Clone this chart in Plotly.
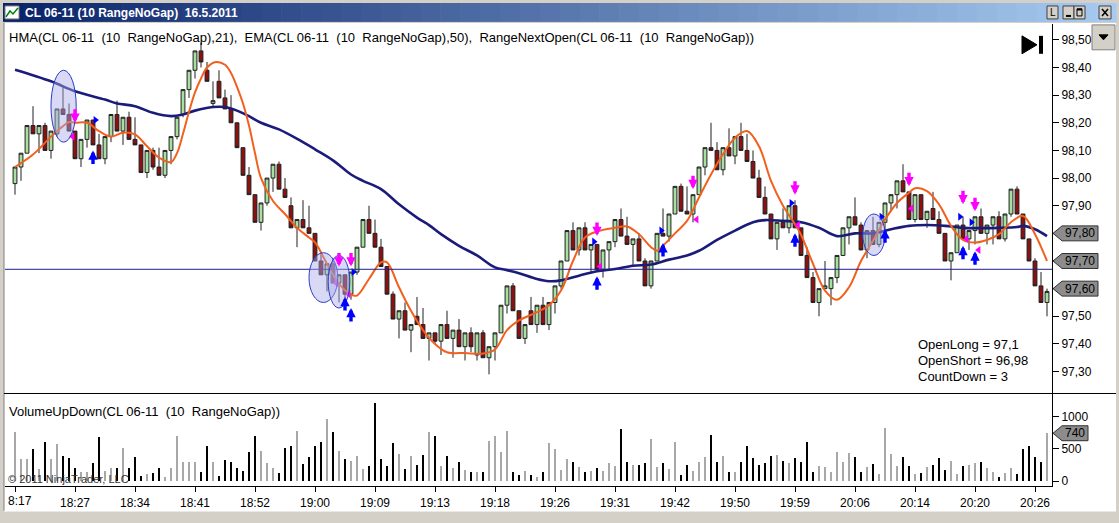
import plotly.graph_objects as go

W, H = 1119, 523
FONT = "Liberation Sans, Arial, sans-serif"


def px(x):
    return x / W


def py(y):
    return 1 - y / H


# ---- range bars (10 RangeNoGap), one entry per bar ----
opens = [97.98, 98.04, 98.09, 98.19, 98.16, 98.19, 98.10, 98.16, 98.25, 98.23,
         98.17, 98.07, 98.14, 98.21, 98.12, 98.07, 98.15, 98.23, 98.17, 98.22,
         98.14, 98.12, 98.02, 98.10, 98.04, 98.01, 98.10, 98.15, 98.23, 98.32,
         98.39, 98.46, 98.39, 98.27, 98.35, 98.29, 98.25, 98.20, 98.11, 98.01,
         97.94, 97.84, 97.91, 98.00, 98.05, 97.96, 97.90, 97.82, 97.85, 97.82,
         97.80, 97.70, 97.65, 97.69, 97.62, 97.65, 97.58, 97.66, 97.75, 97.85,
         97.80, 97.75, 97.68, 97.58, 97.49, 97.52, 97.45, 97.50, 97.47, 97.42,
         97.44, 97.41, 97.47, 97.42, 97.45, 97.39, 97.44, 97.36, 97.44, 97.35,
         97.39, 97.44, 97.54, 97.61, 97.52, 97.42, 97.52, 97.47, 97.54, 97.47,
         97.55, 97.61, 97.70, 97.81, 97.74, 97.82, 97.74, 97.76, 97.67, 97.74,
         97.77, 97.85, 97.79, 97.76, 97.78, 97.70, 97.61, 97.70, 97.80, 97.79,
         97.87, 97.97, 97.88, 97.87, 97.94, 98.04, 98.11, 98.10, 98.03, 98.11,
         98.08, 98.15, 98.10, 98.06, 98.00, 97.93, 97.87, 97.78, 97.84, 97.82,
         97.90, 97.82, 97.72, 97.64, 97.55, 97.60, 97.60, 97.64, 97.72, 97.82,
         97.86, 97.83, 97.74, 97.81, 97.76, 97.84, 97.91, 97.94, 97.99, 97.95,
         97.85, 97.94, 97.85, 97.89, 97.85, 97.80, 97.70, 97.73, 97.83, 97.78,
         97.81, 97.86, 97.80, 97.83, 97.86, 97.78, 97.87, 97.96, 97.87, 97.78,
         97.70, 97.61, 97.55]
highs = [98.04, 98.09, 98.19, 98.26, 98.19, 98.20, 98.17, 98.25, 98.33, 98.27,
         98.17, 98.14, 98.21, 98.21, 98.16, 98.15, 98.23, 98.28, 98.22, 98.24,
         98.22, 98.12, 98.10, 98.11, 98.11, 98.10, 98.15, 98.22, 98.32, 98.39,
         98.46, 98.49, 98.42, 98.35, 98.39, 98.32, 98.30, 98.20, 98.11, 98.04,
         97.94, 97.91, 98.00, 98.05, 98.06, 98.00, 97.93, 97.85, 97.92, 97.90,
         97.80, 97.73, 97.69, 97.71, 97.65, 97.65, 97.66, 97.75, 97.85, 97.90,
         97.85, 97.78, 97.68, 97.59, 97.52, 97.55, 97.47, 97.57, 97.53, 97.44,
         97.44, 97.47, 97.52, 97.45, 97.49, 97.44, 97.46, 97.44, 97.45, 97.39,
         97.44, 97.54, 97.61, 97.62, 97.52, 97.47, 97.57, 97.54, 97.57, 97.55,
         97.61, 97.70, 97.81, 97.84, 97.82, 97.84, 97.76, 97.76, 97.74, 97.77,
         97.85, 97.89, 97.86, 97.78, 97.80, 97.71, 97.70, 97.80, 97.89, 97.87,
         97.97, 97.98, 97.97, 97.94, 98.04, 98.11, 98.20, 98.13, 98.11, 98.18,
         98.15, 98.20, 98.16, 98.10, 98.03, 97.97, 97.87, 97.84, 97.89, 97.90,
         97.92, 97.82, 97.75, 97.66, 97.60, 97.70, 97.64, 97.72, 97.82, 97.86,
         97.93, 97.84, 97.81, 97.86, 97.84, 97.91, 97.94, 97.99, 98.05, 97.95,
         97.94, 97.94, 97.88, 97.95, 97.88, 97.80, 97.73, 97.83, 97.86, 97.81,
         97.86, 97.89, 97.83, 97.86, 97.88, 97.87, 97.96, 97.97, 97.87, 97.78,
         97.71, 97.66, 97.60]
lows = [97.94, 97.99, 98.09, 98.16, 98.09, 98.10, 98.07, 98.15, 98.23, 98.17,
        98.07, 98.04, 98.11, 98.12, 98.07, 98.05, 98.13, 98.17, 98.12, 98.14,
        98.12, 98.02, 98.00, 98.03, 98.01, 98.00, 98.05, 98.14, 98.22, 98.29,
        98.36, 98.40, 98.35, 98.26, 98.29, 98.25, 98.20, 98.11, 98.01, 97.94,
        97.84, 97.81, 97.90, 97.95, 97.96, 97.93, 97.82, 97.75, 97.82, 97.80,
        97.70, 97.65, 97.59, 97.62, 97.55, 97.56, 97.56, 97.65, 97.75, 97.80,
        97.75, 97.68, 97.58, 97.49, 97.42, 97.45, 97.37, 97.47, 97.42, 97.34,
        97.40, 97.36, 97.42, 97.35, 97.39, 97.34, 97.37, 97.34, 97.35, 97.29,
        97.34, 97.44, 97.51, 97.52, 97.42, 97.40, 97.47, 97.44, 97.47, 97.45,
        97.51, 97.60, 97.70, 97.74, 97.72, 97.74, 97.66, 97.67, 97.64, 97.67,
        97.75, 97.79, 97.76, 97.68, 97.70, 97.61, 97.60, 97.70, 97.79, 97.77,
        97.87, 97.88, 97.87, 97.84, 97.94, 98.01, 98.10, 98.03, 98.01, 98.08,
        98.05, 98.10, 98.06, 98.00, 97.93, 97.87, 97.78, 97.74, 97.82, 97.80,
        97.82, 97.72, 97.64, 97.55, 97.50, 97.60, 97.54, 97.62, 97.72, 97.76,
        97.83, 97.74, 97.71, 97.76, 97.75, 97.81, 97.88, 97.89, 97.95, 97.85,
        97.84, 97.85, 97.82, 97.85, 97.80, 97.70, 97.63, 97.73, 97.78, 97.74,
        97.76, 97.80, 97.76, 97.76, 97.78, 97.77, 97.86, 97.87, 97.78, 97.70,
        97.61, 97.55, 97.50]
closes = [98.04, 98.09, 98.19, 98.16, 98.19, 98.10, 98.17, 98.25, 98.23, 98.17,
          98.07, 98.14, 98.21, 98.12, 98.07, 98.15, 98.23, 98.17, 98.22, 98.14,
          98.12, 98.02, 98.10, 98.04, 98.01, 98.10, 98.15, 98.22, 98.32, 98.39,
          98.46, 98.42, 98.35, 98.28, 98.29, 98.25, 98.20, 98.11, 98.01, 97.94,
          97.84, 97.91, 98.00, 98.05, 97.96, 97.93, 97.82, 97.85, 97.82, 97.80,
          97.70, 97.65, 97.69, 97.62, 97.65, 97.58, 97.66, 97.75, 97.85, 97.80,
          97.75, 97.68, 97.58, 97.49, 97.52, 97.45, 97.47, 97.47, 97.42, 97.44,
          97.41, 97.47, 97.42, 97.45, 97.39, 97.44, 97.39, 97.44, 97.35, 97.39,
          97.44, 97.54, 97.61, 97.52, 97.42, 97.47, 97.47, 97.54, 97.47, 97.55,
          97.61, 97.70, 97.81, 97.74, 97.82, 97.74, 97.76, 97.67, 97.74, 97.77,
          97.85, 97.79, 97.76, 97.78, 97.70, 97.61, 97.70, 97.80, 97.79, 97.87,
          97.97, 97.88, 97.87, 97.94, 98.04, 98.11, 98.10, 98.03, 98.11, 98.08,
          98.15, 98.10, 98.06, 98.00, 97.93, 97.87, 97.78, 97.84, 97.82, 97.90,
          97.82, 97.72, 97.64, 97.55, 97.60, 97.61, 97.64, 97.72, 97.82, 97.86,
          97.83, 97.74, 97.81, 97.76, 97.84, 97.91, 97.94, 97.99, 97.95, 97.85,
          97.94, 97.85, 97.88, 97.85, 97.80, 97.70, 97.73, 97.83, 97.78, 97.81,
          97.86, 97.80, 97.83, 97.86, 97.78, 97.87, 97.96, 97.87, 97.78, 97.70,
          97.61, 97.55, 97.59]
volumes = [744, 333, 333, 487, 180, 600, 333, 564, 385, 344,
           190, 128, 128, 272, 667, 154, 190, 190, 498, 190,
           359, 77, 103, 118, 190, 51, 190, 693, 292, 292,
           282, 128, 539, 292, 67, 323, 292, 190, 154, 436,
           693, 462, 272, 190, 118, 498, 528, 770, 256, 359,
           539, 590, 949, 744, 462, 333, 308, 374, 180, 231,
           1206, 333, 220, 575, 410, 180, 374, 246, 400, 744,
           693, 231, 385, 190, 292, 169, 128, 139, 128, 616,
           693, 446, 770, 128, 92, 154, 92, 51, 128, 575,
           487, 169, 333, 282, 205, 139, 154, 190, 154, 267,
           221, 795, 282, 246, 246, 267, 651, 205, 267, 180,
           590, 92, 246, 154, 292, 359, 708, 282, 374, 139,
           139, 292, 539, 344, 246, 272, 374, 395, 308, 267,
           344, 292, 590, 128, 221, 205, 139, 436, 292, 420,
           359, 128, 205, 256, 103, 821, 410, 231, 359, 221,
           103, 118, 215, 241, 344, 169, 308, 103, 231, 241,
           267, 282, 190, 128, 51, 118, 190, 103, 487, 539,
           359, 292, 740]
bars = list(range(len(closes)))

# ---- indicator lines (bar index, value) ----
hma_bars = [0, 3, 6, 8, 9, 10, 12, 14, 16, 18, 20, 22, 24, 26, 27, 28, 29, 30, 31,
            32, 33.5, 35, 36, 37, 38, 39, 40, 41, 43, 45, 47, 49, 50, 52, 54, 56,
            57, 59, 61, 62, 64, 66, 68, 70, 72, 75, 78, 80, 82, 84, 87, 89, 91, 93,
            95, 97, 100, 102, 104, 106, 107, 108, 110, 112, 114, 116, 118, 120,
            122, 124, 126, 128, 130, 131, 133, 135, 137, 139, 141, 143, 145, 147,
            149, 150, 152, 154, 156, 158, 160, 162, 164, 166, 168, 170, 172]
hma_vals = [98.04, 98.085, 98.15, 98.188, 98.203, 98.20, 98.20, 98.17, 98.15, 98.164,
            98.158, 98.115, 98.074, 98.058, 98.09, 98.16, 98.24, 98.31, 98.36,
            98.40, 98.42, 98.41, 98.38, 98.33, 98.27, 98.19, 98.09, 98.00, 97.917,
            97.87, 97.82, 97.785, 97.767, 97.69, 97.617, 97.578, 97.575, 97.635,
            97.695, 97.695, 97.605, 97.52, 97.45, 97.40, 97.37, 97.367, 97.365,
            97.38, 97.45, 97.485, 97.515, 97.54, 97.593, 97.70, 97.785, 97.807,
            97.82, 97.825, 97.797, 97.75, 97.737, 97.755, 97.80, 97.845, 97.93,
            98.013, 98.086, 98.146, 98.17, 98.115, 97.99, 97.90, 97.833, 97.795,
            97.69, 97.593, 97.56, 97.605, 97.70, 97.773, 97.85, 97.91, 97.947,
            97.963, 97.953, 97.905, 97.827, 97.776, 97.767, 97.776, 97.797, 97.84,
            97.863, 97.797, 97.70]
ema_bars = [0, 6, 10, 15, 17, 20, 23, 26, 28, 30, 33, 35, 37, 39, 41, 44, 47.5, 50,
            53, 56, 58, 61, 64, 67, 69, 71, 74, 77, 80, 82, 84, 87, 89, 91, 94, 97,
            100, 103, 106, 109, 112, 114, 117, 120, 123, 125, 128, 131, 134, 137,
            140, 143, 146, 149, 152, 155, 158, 161, 164, 167, 168, 170, 172]
ema_vals = [98.392, 98.35, 98.314, 98.284, 98.27, 98.26, 98.236, 98.224, 98.23,
            98.244, 98.257, 98.257, 98.244, 98.224, 98.20, 98.176, 98.136, 98.104,
            98.064, 98.013, 97.99, 97.96, 97.905, 97.857, 97.83, 97.797, 97.755,
            97.72, 97.677, 97.667, 97.656, 97.635, 97.627, 97.63, 97.647, 97.663,
            97.671, 97.683, 97.687, 97.705, 97.72, 97.737, 97.776, 97.81, 97.84,
            97.848, 97.845, 97.84, 97.82, 97.79, 97.80, 97.80, 97.815, 97.827,
            97.83, 97.827, 97.82, 97.819, 97.82, 97.823, 97.827, 97.815, 97.79]

# ---- RangeNextOpen signals ----
short_bars = [10, 54, 56, 97, 113, 130, 149, 158, 160]
short_tips = [98.20, 97.68, 97.68, 97.79, 97.96, 97.94, 97.97, 97.905, 97.88]
long_bars = [13, 55, 56, 97, 108, 130, 145, 158, 160]
long_tips = [98.10, 97.57, 97.53, 97.645, 97.765, 97.80, 97.815, 97.755, 97.735]
blue_tri_bars = [13.4, 56.4, 96.5, 107.7, 129.4, 144.4, 157.5, 159.4]
blue_tri_prices = [98.21, 97.66, 97.77, 97.81, 97.91, 97.86, 97.86, 97.84]
pink_tri_bars = [9.6, 53.5, 55.6, 97.5, 113.6, 130.5, 149.4, 158.6, 160.6]
pink_tri_prices = [98.15, 97.62, 97.58, 97.68, 97.85, 97.83, 97.89, 97.78, 97.74]

# ---- highlight ellipses ----
ell_bar0 = [6.0, 49.0, 52.2, 141.3]
ell_bar1 = [10.2, 53.8, 55.8, 145.0]
ell_low = [98.13, 97.55, 97.53, 97.72]
ell_high = [98.39, 97.73, 97.72, 97.87]

hline_price = 97.67
price_tags = [97.80, 97.70, 97.60]
volume_tag = 740

tick_bars = [0, 10, 20, 30, 40, 50, 60, 70, 80, 90, 100, 110, 120, 130, 140, 150, 160, 170]
tick_labels = ["", "18:27", "18:34", "18:41", "18:52", "19:00", "19:09", "19:13", "19:18",
               "19:26", "19:31", "19:42", "19:50", "19:59", "20:06", "20:14", "20:20", "20:26"]
first_label = "8:17"
price_ticks = [97.3, 97.4, 97.5, 97.6, 97.7, 97.8, 97.9, 98.0, 98.1, 98.2, 98.3, 98.4, 98.5]
price_tick_text = ["97,30", "97,40", "97,50", "", "", "", "97,90", "98,00", "98,10",
                   "98,20", "98,30", "98,40", "98,50"]
volume_ticks = [0, 500, 1000]

fig = go.Figure()

fig.add_trace(go.Candlestick(
    x=bars, open=opens, high=highs, low=lows, close=closes,
    increasing=dict(fillcolor="#A8E0A0", line=dict(color="#202020", width=1)),
    decreasing=dict(fillcolor="#8B1010", line=dict(color="#202020", width=1)),
    whiskerwidth=0, showlegend=False, hoverinfo="skip", xaxis="x", yaxis="y"))

fig.add_trace(go.Scatter(x=ema_bars, y=ema_vals, mode="lines",
                         line=dict(color="#1B1B7A", width=2.6, shape="spline"),
                         showlegend=False, hoverinfo="skip", xaxis="x", yaxis="y"))
fig.add_trace(go.Scatter(x=hma_bars, y=hma_vals, mode="lines",
                         line=dict(color="#F2601E", width=2, shape="spline"),
                         showlegend=False, hoverinfo="skip", xaxis="x", yaxis="y"))

fig.add_trace(go.Scatter(x=blue_tri_bars, y=blue_tri_prices, mode="markers",
                         marker=dict(symbol="triangle-right", size=7, color="#0000FF"),
                         showlegend=False, hoverinfo="skip", xaxis="x", yaxis="y"))
fig.add_trace(go.Scatter(x=pink_tri_bars, y=pink_tri_prices, mode="markers",
                         marker=dict(symbol="triangle-left", size=7, color="#FF00FF"),
                         showlegend=False, hoverinfo="skip", xaxis="x", yaxis="y"))

vol_colors = ["#A8A8A8" if c >= o else "#000000" for o, c in zip(opens, closes)]
fig.add_trace(go.Bar(x=bars, y=volumes, marker=dict(color=vol_colors, line_width=0),
                     width=0.34, showlegend=False, hoverinfo="skip", xaxis="x", yaxis="y2"))

shapes = []
annotations = []


def rect(x0, y0, x1, y1, fill, line_color=None, layer="above", lw=1):
    shapes.append(dict(type="rect", xref="paper", yref="paper",
                       x0=px(x0), x1=px(x1), y0=py(y1), y1=py(y0),
                       fillcolor=fill, layer=layer,
                       line=dict(color=line_color or fill, width=lw if line_color else 0)))


def seg(x0, y0, x1, y1, color, width=1, layer="above"):
    shapes.append(dict(type="line", xref="paper", yref="paper",
                       x0=px(x0), x1=px(x1), y0=py(y0), y1=py(y1), layer=layer,
                       line=dict(color=color, width=width)))


def label(x, y, text, size=12, color="black", xanchor="left", bold=False):
    if bold:
        text = "<b>" + text + "</b>"
    annotations.append(dict(xref="paper", yref="paper", x=px(x), y=py(y), text=text,
                            showarrow=False, xanchor=xanchor, yanchor="middle",
                            font=dict(family=FONT, size=size, color=color)))


# white chart area
rect(4, 23, 1116, 513, "white", layer="below")

# window frame borders
rect(0, 0, 4, 523, "#D4D0C8")
rect(1116, 0, 1119, 523, "#D4D0C8")
rect(0, 513, 1119, 523, "#D4D0C8")
rect(0, 0, 1119, 3, "#D4D0C8")
seg(4, 23, 4, 513, "#808080", 1)
seg(4, 513, 1116, 513, "#FFFFFF", 1)

# title bar gradient
n = 56
c0, c1 = (10, 36, 106), (166, 202, 240)
for i in range(n):
    t = i / (n - 1)
    col = "rgb(%d,%d,%d)" % tuple(round(a + (b - a) * t) for a, b in zip(c0, c1))
    x0 = 3 + (1113 / n) * i
    rect(x0, 3, x0 + 1113 / n + 0.6, 22, col)

# title icon
rect(5, 6, 19, 19, "#FFFFFF", "#808080")
shapes.append(dict(type="path", xref="paper", yref="paper", layer="above",
                   path="M %f,%f L %f,%f L %f,%f L %f,%f" % (px(6), py(17), px(10), py(11),
                                                             px(13), py(14), px(18), py(8)),
                   line=dict(color="#008000", width=1.5)))
label(23, 13, "CL 06-11 (10 RangeNoGap)\u00a0\u00a016.5.2011", size=12, color="white", bold=True)

# title buttons
for bx0, bx1 in [(1047, 1058), (1063, 1074), (1074, 1085), (1099, 1111)]:
    rect(bx0, 6, bx1, 19, "#D4D0C8", "#404040")
label(1052.5, 12.5, "L", size=10, xanchor="center")
seg(1066, 16, 1071, 16, "black", 2)
rect(1077, 9, 1082, 16, "rgba(0,0,0,0)", "black")
seg(1077, 9.5, 1082, 9.5, "black", 2)
seg(1102, 9, 1108, 16, "black", 1.5)
seg(1102, 16, 1108, 9, "black", 1.5)

# drop-down button at upper right
rect(1092, 25, 1115, 50, "#D4D0C8", "#808080")
shapes.append(dict(type="path", xref="paper", yref="paper", layer="above",
                   path="M %f,%f L %f,%f L %f,%f Z" % (px(1099), py(35), px(1108), py(35),
                                                       px(1103.5), py(40)),
                   fillcolor="black", line=dict(color="black", width=1)))

# play-to-end icon
shapes.append(dict(type="path", xref="paper", yref="paper", layer="above",
                   path="M %f,%f L %f,%f L %f,%f Z" % (px(1022), py(36), px(1037), py(45),
                                                       px(1022), py(54)),
                   fillcolor="black", line=dict(color="black", width=1)))
rect(1039, 36, 1043, 54, "black")

# panel separator
seg(4, 395, 1116, 395, "black", 1)

# horizontal price line
shapes.append(dict(type="line", xref="paper", yref="y", x0=px(5), x1=px(1052),
                   y0=hline_price, y1=hline_price, layer="above",
                   line=dict(color="#1E1E90", width=1)))

# ellipses
for a, b, lo, hi in zip(ell_bar0, ell_bar1, ell_low, ell_high):
    shapes.append(dict(type="circle", xref="x", yref="y", x0=a, x1=b, y0=lo, y1=hi,
                       fillcolor="rgba(170,170,235,0.45)", layer="above",
                       line=dict(color="#2A3BC8", width=1)))

# value tags on the right axes
half_p = 7.5 / 277.5
for v in price_tags:
    shapes.append(dict(type="path", xref="paper", yref="y", layer="above",
                       path="M %f,%f L %f,%f L %f,%f L %f,%f L %f,%f Z" % (
                           px(1053), v, px(1062), v + half_p, px(1098), v + half_p,
                           px(1098), v - half_p, px(1062), v - half_p),
                       fillcolor="#8C8C8C", line=dict(color="#303030", width=1)))
    annotations.append(dict(xref="paper", yref="y", x=px(1080), y=v,
                            text=("%.2f" % v).replace(".", ","), showarrow=False,
                            xanchor="center", yanchor="middle",
                            font=dict(family=FONT, size=12, color="black")))
half_v = 7.5 * 1431 / 93
shapes.append(dict(type="path", xref="paper", yref="y2", layer="above",
                   path="M %f,%f L %f,%f L %f,%f L %f,%f L %f,%f Z" % (
                       px(1053), volume_tag, px(1062), volume_tag + half_v, px(1088),
                       volume_tag + half_v, px(1088), volume_tag - half_v, px(1062),
                       volume_tag - half_v),
                   fillcolor="#8C8C8C", line=dict(color="#303030", width=1)))
annotations.append(dict(xref="paper", yref="y2", x=px(1075), y=volume_tag,
                        text=str(volume_tag), showarrow=False, xanchor="center",
                        yanchor="middle", font=dict(family=FONT, size=12, color="black")))

# signal arrows
for b, tip in zip(short_bars, short_tips):
    annotations.append(dict(xref="x", yref="y", x=b, y=tip, ax=0, ay=-15, text="",
                            showarrow=True, arrowhead=2, arrowsize=0.55, arrowwidth=3.4,
                            arrowcolor="#FF00FF"))
for b, tip in zip(long_bars, long_tips):
    annotations.append(dict(xref="x", yref="y", x=b, y=tip, ax=0, ay=15, text="",
                            showarrow=True, arrowhead=2, arrowsize=0.55, arrowwidth=3.4,
                            arrowcolor="#0000FF"))

# texts
sp = "\u00a0"
label(7, 38, "HMA(CL 06-11" + sp * 2 + "(10" + sp * 2 + "RangeNoGap),21)," + sp * 2 +
      "EMA(CL 06-11" + sp * 2 + "(10" + sp * 2 + "RangeNoGap),50)," + sp * 2 +
      "RangeNextOpen(CL 06-11" + sp * 2 + "(10" + sp * 2 + "RangeNoGap))", size=13)
label(7, 413, "VolumeUpDown(CL 06-11" + sp * 2 + "(10" + sp * 2 + "RangeNoGap))", size=13)
label(6, 481, "\u00a9 2011 NinjaTrader, LLC", size=11, color="#333333")
label(916, 346, "OpenLong = 97,1", size=13)
label(916, 362, "OpenShort = 96,98", size=13)
label(916, 378, "CountDown = 3", size=13)
label(6, 503, first_label, size=12)

fig.update_layout(
    width=W, height=H,
    margin=dict(l=0, r=0, t=0, b=0),
    paper_bgcolor="#D4D0C8",
    plot_bgcolor="rgba(0,0,0,0)",
    bargap=0,
    boxgap=0.2,
    boxgroupgap=0.2,
    shapes=shapes,
    annotations=annotations,
    font=dict(family=FONT, size=12, color="black"),
    xaxis=dict(domain=[px(5), px(1052)], range=[-1.667, 172.833], anchor="y2",
               tickvals=tick_bars, ticktext=tick_labels, ticks="outside", ticklen=5,
               tickcolor="black", showline=True, linecolor="black", linewidth=1,
               showgrid=False, zeroline=False, rangeslider=dict(visible=False),
               tickfont=dict(family=FONT, size=12, color="black")),
    yaxis=dict(domain=[py(395), py(24)], range=[97.2207, 98.5577], side="right",
               anchor="x", tickvals=price_ticks, ticktext=price_tick_text,
               ticks="outside", ticklen=6, tickcolor="black", showline=True,
               linecolor="black", linewidth=1, showgrid=False, zeroline=False,
               tickfont=dict(family=FONT, size=12, color="black")),
    yaxis2=dict(domain=[py(488), py(395)], range=[-77, 1354], side="right",
                anchor="x", tickvals=volume_ticks,
                ticktext=[str(v) for v in volume_ticks],
                ticks="outside", ticklen=6, tickcolor="black", showline=True,
                linecolor="black", linewidth=1, showgrid=False, zeroline=False,
                tickfont=dict(family=FONT, size=12, color="black")),
)

fig.write_html("out.html", config={"displayModeBar": False},
               post_script="document.body.style.margin='0';document.body.style.overflow='hidden';")
